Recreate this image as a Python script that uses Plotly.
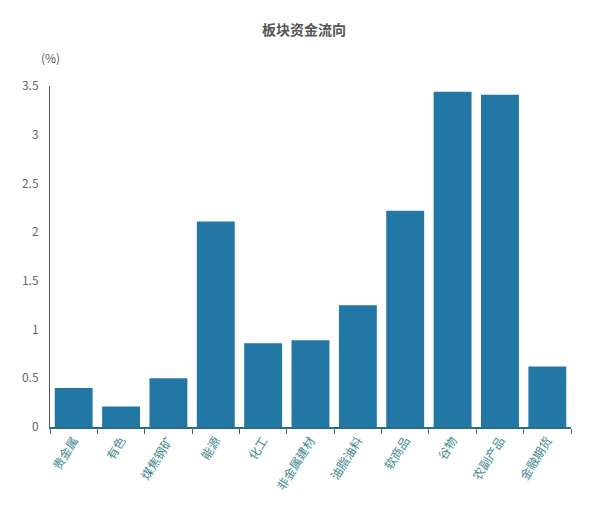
import plotly.graph_objects as go

categories = ["贵金属", "有色", "煤焦钢矿", "能源", "化工", "非金属建材", "油脂油料", "软商品", "谷物", "农副产品", "金融期货"]
values = [0.40, 0.21, 0.50, 2.11, 0.86, 0.89, 1.25, 2.22, 3.44, 3.41, 0.62]
y_ticks = [0, 0.5, 1, 1.5, 2, 2.5, 3, 3.5]
y_tick_text = ["0", "0.5", "1", "1.5", "2", "2.5", "3", "3.5"]

fig = go.Figure(go.Bar(x=categories, y=values, marker=dict(color="#2277a4", line=dict(width=0)), width=0.8))

fig.update_layout(
    width=608, height=508,
    margin=dict(l=50, r=37, t=86, b=81),
    paper_bgcolor="white", plot_bgcolor="white",
    font=dict(family="Noto Sans CJK SC", size=12, color="#666"),
    title=dict(text="<b>板块资金流向</b>", x=0.5, xanchor="center", y=0.94, yanchor="middle",
               font=dict(size=14, color="#555", family="Noto Sans CJK SC")),
    showlegend=False,
    bargap=0.2,
    annotations=[dict(text="(%)", xref="paper", yref="paper", x=0, y=1.085, xanchor="center",
                      yanchor="middle", showarrow=False, font=dict(size=12, color="#555"))],
)
fig.update_xaxes(
    type="category", showline=True, linecolor="#2a6f7f", linewidth=1.5,
    ticks="outside", tickson="boundaries", ticklen=5, tickcolor="#2a6f7f",
    tickangle=-58, tickfont=dict(size=12, color="#3f8a8f"), showgrid=False,
)
fig.update_yaxes(
    range=[0, 3.5], tickvals=y_ticks, ticktext=y_tick_text, showline=True, linecolor="#555",
    linewidth=1, showgrid=False, zeroline=False, ticks="", ticklabelstandoff=8,
    tickfont=dict(size=12, color="#666"),
)

fig.write_html("out.html")
